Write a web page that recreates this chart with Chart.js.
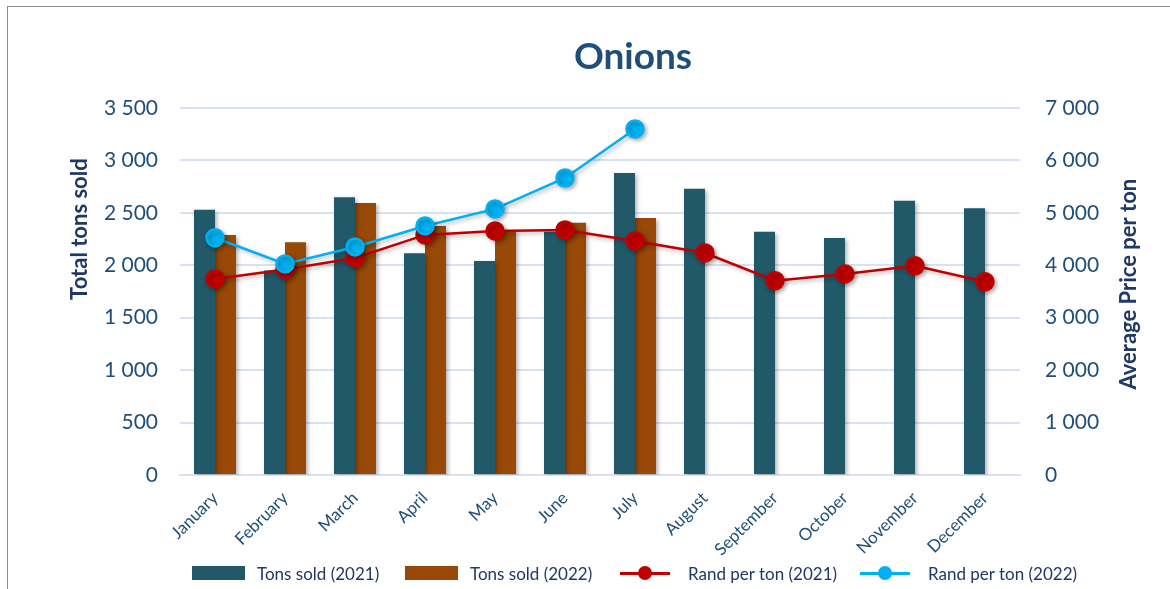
<!DOCTYPE html>
<html>
<head>
<meta charset="utf-8">
<script src="https://cdn.jsdelivr.net/npm/chart.js@4.4.0/dist/chart.umd.min.js"></script>
<style>
  body { margin: 0; background: #fff; font-family: Lato, "Open Sans", sans-serif; }
  #wrap { position: relative; width: 1170px; height: 589px; overflow: hidden; }
  #frame { position: absolute; left: 7px; top: 6px; width: 1300px; height: 700px;
           border-top: 1.5px solid #8c8c8c; border-left: 1.5px solid #8c8c8c; }
  #chart { position: absolute; left: 0; top: 0; }
  .leg { position: absolute; top: 564px; height: 18px; display: flex; align-items: center;
         font-size: 17px; color: #1f3864; white-space: nowrap; }
  .box { width: 53px; height: 14px; margin-right: 12px; }
  .ln { position: relative; width: 50px; height: 3px; margin-right: 18px; }
  .ln span { position: absolute; left: 18px; top: -6px; width: 14px; height: 14px; border-radius: 50%; }
</style>
</head>
<body>
<div id="wrap">
  <div id="frame"></div>
  <canvas id="chart" width="1170" height="589"></canvas>
  <div class="leg" style="left:192px"><div class="box" style="background:#215968"></div>Tons sold (2021)</div>
  <div class="leg" style="left:405px"><div class="box" style="background:#984807"></div>Tons sold (2022)</div>
  <div class="leg" style="left:620px"><div class="ln" style="background:#c00000"><span style="background:#c00000"></span></div>Rand per ton (2021)</div>
  <div class="leg" style="left:860px"><div class="ln" style="background:#00b0f0"><span style="background:#00b0f0"></span></div>Rand per ton (2022)</div>
</div>
<script>
const months = ['January', 'February', 'March', 'April', 'May', 'June', 'July',
                'August', 'September', 'October', 'November', 'December'];
const tons2021 = [2530, 1950, 2650, 2115, 2040, 2320, 2880, 2730, 2320, 2260, 2615, 2545];
const tons2022 = [2290, 2220, 2595, 2375, 2335, 2405, 2450];
const rand2021 = [3740, 3920, 4140, 4580, 4655, 4675, 4465, 4235, 3705, 3835, 3990, 3685];
const rand2022 = [4525, 4025, 4350, 4750, 5075, 5665, 6600];

const navy = '#1f4e79';
const titleNavy = '#203864';
const gridBlue = '#d9e2f3';

function spaced(v) {
    return String(v).replace(/\B(?=(\d{3})+(?!\d))/g, ' ');
}

// soft shadow under bars and markers, like the office chart effects
const shadowPlugin = {
    id: 'shadow',
    beforeDatasetDraw(chart) {
        const c = chart.ctx;
        c.save();
        c.shadowColor = 'rgba(0,0,0,0.3)';
        c.shadowBlur = 4;
        c.shadowOffsetX = 2;
        c.shadowOffsetY = 2;
    },
    afterDatasetDraw(chart) {
        chart.ctx.restore();
    }
};

function vText(c, text, x, y) {
    c.save();
    c.translate(x, y);
    c.rotate(-Math.PI / 2);
    c.fillText(text, 0, 0);
    c.restore();
}

// chart title and axis titles, placed like in the original (left one sits high)
const titles = {
    id: 'titles',
    afterDraw(chart) {
        const c = chart.ctx;
        const a = chart.chartArea;
        c.save();
        c.textAlign = 'center';
        c.textBaseline = 'middle';
        c.fillStyle = navy;
        c.font = 'bold 37px Lato';
        c.fillText('Onions', 633, 57);
        c.fillStyle = titleNavy;
        c.font = 'bold 22px Lato';
        vText(c, 'Total tons sold', 80, a.top + (a.bottom - a.top) * 0.33);
        vText(c, 'Average Price per ton', 1129, a.top + (a.bottom - a.top) * 0.48);
        c.restore();
    }
};

const ctx = document.getElementById('chart').getContext('2d');

new Chart(ctx, {
    type: 'bar',
    data: {
        labels: months,
        datasets: [
            {
                label: 'Tons sold (2021)',
                data: tons2021,
                backgroundColor: '#215968',
                yAxisID: 'y',
                order: 3,
                categoryPercentage: 0.6,
                barPercentage: 1.0
            },
            {
                label: 'Tons sold (2022)',
                data: tons2022,
                backgroundColor: '#984807',
                yAxisID: 'y',
                order: 3,
                categoryPercentage: 0.6,
                barPercentage: 1.0
            },
            {
                type: 'line',
                label: 'Rand per ton (2021)',
                data: rand2021,
                borderColor: '#c00000',
                backgroundColor: '#c00000',
                borderWidth: 2.5,
                pointRadius: 8.5,
                pointHoverRadius: 8.5,
                yAxisID: 'y1',
                order: 2
            },
            {
                type: 'line',
                label: 'Rand per ton (2022)',
                data: rand2022,
                borderColor: '#00b0f0',
                backgroundColor: '#00b0f0',
                borderWidth: 2.5,
                pointRadius: 8.5,
                pointHoverRadius: 8.5,
                yAxisID: 'y1',
                order: 1
            }
        ]
    },
    options: {
        responsive: false,
        animation: false,
        layout: { padding: { top: 108 } },
        plugins: {
            legend: { display: false },
            tooltip: { enabled: false },
            title: { display: false }
        },
        scales: {
            x: {
                grid: { display: false },
                border: { display: true, color: gridBlue, width: 2 },
                ticks: {
                    color: navy,
                    font: { family: 'Lato', size: 17 },
                    minRotation: 45,
                    maxRotation: 45,
                    padding: 5
                },
                afterFit(scale) { scale.height = 114; }
            },
            y: {
                position: 'left',
                min: 0,
                max: 3500,
                grid: { color: gridBlue, lineWidth: 2, drawTicks: false },
                border: { display: false },
                ticks: {
                    stepSize: 500,
                    color: navy,
                    font: { family: 'Lato', size: 21 },
                    padding: 22,
                    callback: v => spaced(v)
                },
                afterFit(scale) { scale.width = 180; }
            },
            y1: {
                position: 'right',
                min: 0,
                max: 7000,
                grid: { display: false, drawTicks: false },
                border: { display: false },
                ticks: {
                    stepSize: 1000,
                    color: navy,
                    font: { family: 'Lato', size: 21 },
                    padding: 25,
                    callback: v => spaced(v)
                },
                afterFit(scale) { scale.width = 150; }
            }
        }
    },
    plugins: [shadowPlugin, titles]
});
</script>
</body>
</html>
